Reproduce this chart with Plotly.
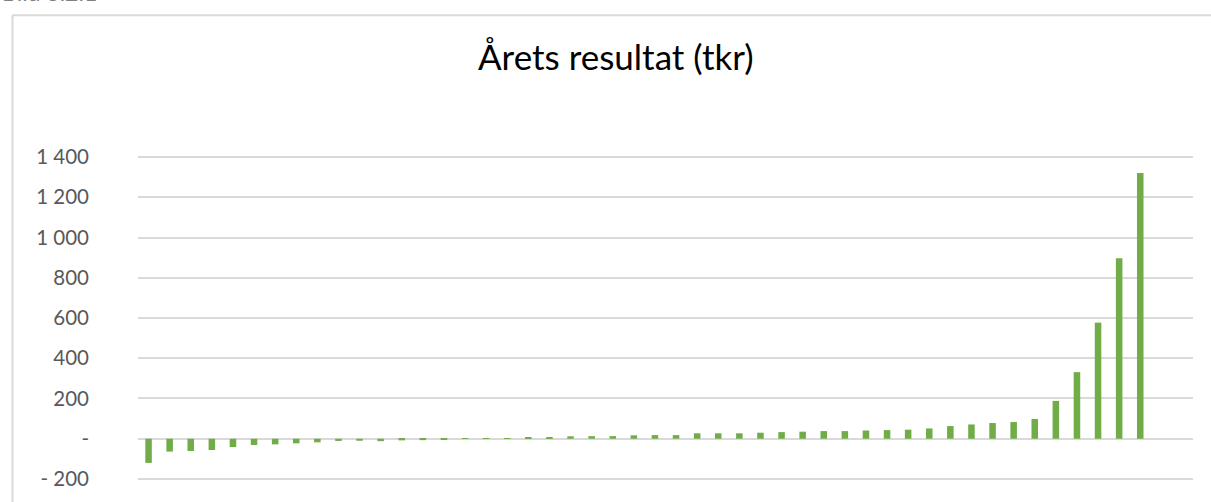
import plotly.graph_objects as go

# ---- data ----
companies = list(range(1, 49))
result_tkr = [-120, -64, -61, -56, -41, -31, -28, -23, -18, -11, -10, -12,
              -8, -7, -5, 1, 3, 3, 6, 8, 12, 13, 13, 17,
              18, 18, 27, 27, 27, 30, 33, 35, 38, 38, 41, 43,
              45, 51, 63, 71, 78, 83, 98, 188, 331, 577, 897, 1320]
tick_vals = [-200, 0, 200, 400, 600, 800, 1000, 1200, 1400]
tick_text = ["- 200", "-", "200", "400", "600", "800", "1 000", "1 200", "1 400"]
title_text = "Årets resultat (tkr)"
caption_text = "Bild 3.2.1"

W, H = 1211, 502
ML, MR, MT, MB = 138, 18, 154, 17
PW, PH = W - ML - MR, H - MT - MB
Y_LO, Y_HI = -215, 1415

def px_x(p):
    return (p - ML) / PW

def px_y(p):
    return (H - MB - p) / PH

GREEN = "#70ad47"
GRID = "#d9d9d9"
FONT = "Lato, 'Open Sans', sans-serif"

fig = go.Figure()
fig.add_trace(go.Bar(x=companies, y=result_tkr, marker=dict(color=GREEN, line=dict(width=0)),
                     hoverinfo="y"))

fig.update_layout(
    width=W, height=H,
    margin=dict(l=ML, r=MR, t=MT, b=MB, pad=0),
    paper_bgcolor="white", plot_bgcolor="white",
    bargap=0.69,
    showlegend=False,
    font=dict(family=FONT, color="#595959"),
    xaxis=dict(range=[0.5, 50.5], showticklabels=False, showgrid=False,
               zeroline=False, showline=False, ticks=""),
    yaxis=dict(range=[Y_LO, Y_HI], tickvals=tick_vals, ticktext=tick_text,
               showgrid=True, gridcolor=GRID, gridwidth=1.8, zeroline=False,
               showline=False, ticks="", ticklabelstandoff=48,
               tickfont=dict(size=20.5, color="#595959", family=FONT)),
)

# chart frame (left and top edges visible)
fig.add_shape(type="line", xref="paper", yref="paper",
              x0=px_x(12.5), x1=px_x(12.5), y0=px_y(14), y1=px_y(520),
              line=dict(color=GRID, width=2))
fig.add_shape(type="line", xref="paper", yref="paper",
              x0=px_x(12), x1=px_x(1230), y0=px_y(14), y1=px_y(14),
              line=dict(color=GRID, width=2))

fig.add_annotation(text=title_text, xref="paper", yref="paper",
                   x=px_x(615.5), y=px_y(55), xanchor="center", yanchor="middle",
                   showarrow=False, font=dict(size=35, color="#000000", family=FONT))
fig.add_annotation(text=caption_text, xref="paper", yref="paper",
                   x=px_x(0), y=px_y(-9), xanchor="left", yanchor="middle",
                   showarrow=False, font=dict(size=23, color="#808080", family=FONT))

fig.write_html("out.html", include_plotlyjs=True,
               config={"displayModeBar": False},
               post_script="document.body.style.margin='0';")
